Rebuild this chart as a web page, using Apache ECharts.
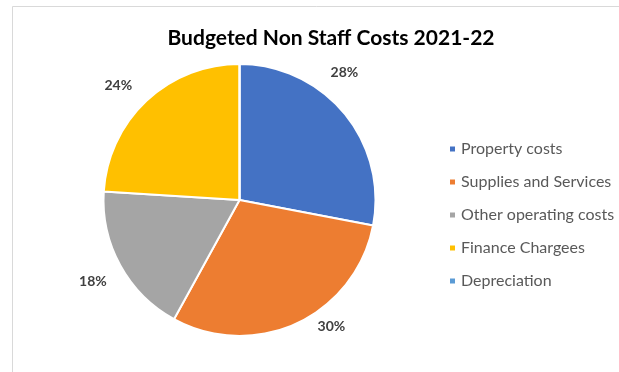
<!DOCTYPE html>
<html>
<head>
<meta charset="utf-8">
<script src="https://cdn.jsdelivr.net/npm/echarts@6/dist/echarts.min.js"></script>
<style>
  html, body { margin: 0; padding: 0; background: #fff; }
  #chart { width: 619px; height: 372px; }
</style>
</head>
<body>
<div id="chart"></div>
<script>
// Budget breakdown of non-staff costs
const categories = ['Property costs', 'Supplies and Services', 'Other operating costs', 'Finance Chargees', 'Depreciation'];
const shares = [28, 30, 18, 24, 0];
const colors = ['#4472C4', '#ED7D31', '#A5A5A5', '#FFC000', '#5B9BD5'];
// nudges for the percentage labels (best-fit style placement)
const labelNudge = [[-28, -33], [10, -7], [2, 10], [-1, -7], [0, 0]];

const chart = echarts.init(document.getElementById('chart'), null, { renderer: 'canvas' });

const pieData = categories.map((name, i) => ({ name, value: shares[i], itemStyle: { color: colors[i] } }));

chart.setOption({
  animation: false,
  backgroundColor: '#ffffff',
  graphic: [{
    type: 'polyline',
    shape: { points: [[12.5, 400], [12.5, 6.5], [640, 6.5]] },
    style: { stroke: '#d9d9d9', lineWidth: 1, fill: null },
    silent: true
  }],
  title: {
    text: 'Budgeted Non Staff Costs 2021-22',
    left: 326,
    top: 23,
    textAlign: 'center',
    textStyle: { fontFamily: 'Lato', fontWeight: 'bold', fontSize: 21, color: '#000000' }
  },
  legend: {
    orient: 'vertical',
    left: 448,
    top: 141,
    padding: 0,
    icon: 'rect',
    itemWidth: 7,
    itemHeight: 7,
    itemGap: 17,
    data: categories,
    textStyle: { fontFamily: 'Lato', fontSize: 16, color: '#595959', lineHeight: 16 }
  },
  series: [{
    type: 'pie',
    center: [239.5, 200],
    radius: 136,
    startAngle: 90,
    clockwise: true,
    avoidLabelOverlap: false,
    itemStyle: { borderColor: '#ffffff', borderWidth: 2 },
    label: {
      show: true,
      position: 'outside',
      formatter: p => (p.value > 0 ? p.value + '%' : ''),
      fontFamily: 'Lato',
      fontWeight: 'bold',
      fontSize: 14,
      color: '#404040'
    },
    labelLine: { show: false, length: 12, length2: 0 },
    labelLayout: p => ({ dx: labelNudge[p.dataIndex][0], dy: labelNudge[p.dataIndex][1] }),
    emphasis: { disabled: true },
    data: pieData
  }]
});
</script>
</body>
</html>
